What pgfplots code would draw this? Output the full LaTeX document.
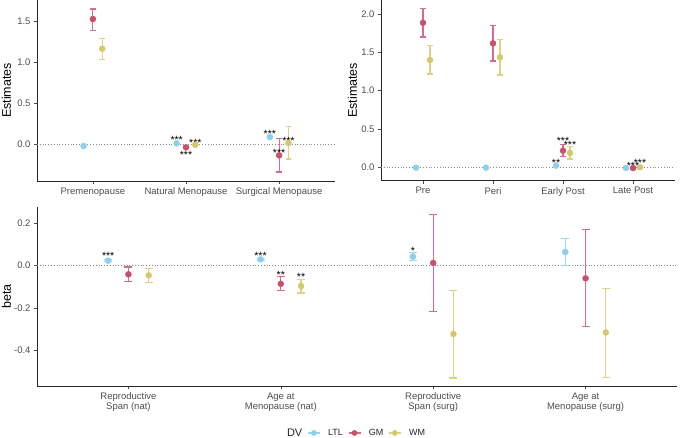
\documentclass[border=0pt]{standalone}
\usepackage{fontspec}
\setmainfont{Liberation Sans}
\usepackage{pgfplots}
\usepackage{pgfplotstable}
\pgfplotsset{compat=1.18}
\definecolor{ltl}{HTML}{8CD0EC}
\definecolor{gm}{HTML}{C94F6D}
\definecolor{wm}{HTML}{D4C86B}
\definecolor{ltlbar}{HTML}{9AD6EE}
\definecolor{gmbar}{HTML}{D26E87}
\definecolor{wmbar}{HTML}{DCD184}
\definecolor{tickgray}{HTML}{4D4D4D}

% top-left: x y ep em
\pgfplotstableread{
x y ep em
0.9 -0.024 0 0
1.9 0.008 0 0
2.9 0.085 0 0
}\tlLTL
\pgfplotstableread{
x y ep em
1.0 1.524 0.122 0.139
2.0 -0.040 0.010 0.010
3.0 -0.138 0.208 0.202
}\tlGM
\pgfplotstableread{
x y ep em
1.1 1.162 0.127 0.129
2.1 -0.010 0.010 0.010
3.1 0.012 0.204 0.195
}\tlWM
% top-right
\pgfplotstableread{
x y ep em
0.9 -0.005 0 0
1.9 -0.005 0 0
2.9 0.021 0 0
3.9 -0.010 0 0
}\trLTL
\pgfplotstableread{
x y ep em
1.0 1.886 0.183 0.186
2.0 1.617 0.235 0.230
3.0 0.217 0.083 0.074
4.0 -0.010 0.010 0.010
}\trGM
\pgfplotstableread{
x y ep em
1.1 1.400 0.186 0.183
2.1 1.435 0.230 0.231
3.1 0.187 0.083 0.079
4.1 0.000 0.010 0.010
}\trWM
% bottom
\pgfplotstableread{
x y ep em
0.867 0.024 0.005 0.005
1.867 0.030 0.005 0.005
2.867 0.043 0.019 0.018
3.867 0.065 0.064 0.063
}\bLTL
\pgfplotstableread{
x y ep em
1.0 -0.041 0.035 0.033
2.0 -0.086 0.034 0.033
3.0 0.013 0.230 0.230
4.0 -0.060 0.231 0.227
}\bGM
\pgfplotstableread{
x y ep em
1.133 -0.046 0.033 0.033
2.133 -0.097 0.032 0.033
3.133 -0.324 0.208 0.209
4.133 -0.317 0.207 0.212
}\bWM

\tikzset{star/.style={font=\fontsize{10.5}{11}\selectfont, anchor=base, yshift=-6pt, inner sep=0pt}}
\pgfplotsset{
  panel/.style={
    scale only axis,
    axis lines*=left,
    axis line style={black!85, line width=0.8pt, -},
    tick align=outside,
    major tick length=3pt,
    tick style={black!70, line width=0.6pt},
    tick label style={font=\fontsize{9.5}{10.5}\selectfont, text=tickgray},
    /pgf/number format/assume math mode=true,
    ylabel style={font=\fontsize{12.5}{14}\selectfont},
    clip=false,
  },
  ser/.style n args={3}{only marks, mark=*, mark size=3pt, color=#1,
    error bars/y dir=both, error bars/y explicit,
    error bars/error mark=|,
    error bars/error bar style={color=#2, draw=#2, line width=1.2pt, solid},
    error bars/error mark options={color=#2, draw=#2, line width=1.2pt, mark size=#3, solid}},
  zero/.style={gray!90, line width=0.7pt, dash pattern=on 0.8pt off 2pt},
  keyimg/.style 2 args={legend image code/.code={%
    \draw[#2, line width=1.2pt] (0pt,0pt) -- (12pt,0pt);
    \fill[#1] (6pt,0pt) circle (2.6pt);
    \path (0pt,0pt) (19pt,0pt);}},
}

\begin{document}
\begin{tikzpicture}
\path[use as bounding box] (0,0) rectangle (680pt,438pt);

% ---------- top left ----------
\begin{axis}[panel,
  at={(37pt,257pt)}, anchor=south west, width=298pt, height=181pt,
  xmin=0.4, xmax=3.6, ymin=-0.45, ymax=1.756,
  xtick={1,2,3}, xticklabels={Premenopause,Natural Menopause,Surgical Menopause},
  ytick={0,0.5,1,1.5}, yticklabels={0.0,0.5,1.0,1.5},
  ylabel={Estimates},
  ylabel style={at={(rel axis cs:0,0.5)}, yshift=30.5pt, anchor=center},
]
\addplot[zero] coordinates {(0.4,0) (3.6,0)};
\addplot[ser={ltl}{ltlbar}{2.7pt}] table[x=x,y=y,y error plus=ep,y error minus=em] {\tlLTL};
\addplot[ser={gm}{gmbar}{2.7pt}] table[x=x,y=y,y error plus=ep,y error minus=em] {\tlGM};
\addplot[ser={wm}{wmbar}{2.7pt}] table[x=x,y=y,y error plus=ep,y error minus=em] {\tlWM};
\node[star] at (axis cs:1.9,0.082) {***};
\node[star] at (axis cs:2.0,-0.106) {***};
\node[star] at (axis cs:2.1,0.049) {***};
\node[star] at (axis cs:2.9,0.159) {***};
\node[star] at (axis cs:3.0,-0.073) {***};
\node[star] at (axis cs:3.1,0.07) {***};
\end{axis}

% ---------- top right ----------
\begin{axis}[panel,
  at={(381pt,257.3pt)}, anchor=south west, width=294pt, height=180.7pt,
  xmin=0.4, xmax=4.6, ymin=-0.175, ymax=2.183,
  xtick={1,2,3,4}, xticklabels={Pre,Peri,Early Post,Late Post},
  ytick={0,0.5,1,1.5,2}, yticklabels={0.0,0.5,1.0,1.5,2.0},
  ylabel={Estimates},
  ylabel style={at={(rel axis cs:0,0.5)}, yshift=28.5pt, anchor=center},
]
\addplot[zero] coordinates {(0.4,0) (4.6,0)};
\addplot[ser={ltl}{ltlbar}{2.7pt}] table[x=x,y=y,y error plus=ep,y error minus=em] {\trLTL};
\addplot[ser={gm}{gmbar}{2.7pt}] table[x=x,y=y,y error plus=ep,y error minus=em] {\trGM};
\addplot[ser={wm}{wmbar}{2.7pt}] table[x=x,y=y,y error plus=ep,y error minus=em] {\trWM};
\node[star] at (axis cs:2.9,0.095) {**};
\node[star] at (axis cs:3.0,0.378) {***};
\node[star] at (axis cs:3.1,0.321) {***};
\node[star] at (axis cs:4.0,0.052) {***};
\node[star] at (axis cs:4.1,0.095) {***};
\end{axis}

% ---------- bottom ----------
\begin{axis}[panel,
  at={(37pt,52pt)}, anchor=south west, width=640pt, height=179.3pt,
  xmin=0.4, xmax=4.6, ymin=-0.571, ymax=0.28,
  xtick={1,2,3,4},
  xticklabels={{Reproductive\\Span (nat)},{Age at\\Menopause (nat)},{Reproductive\\Span (surg)},{Age at\\Menopause (surg)}},
  x tick label style={align=center},
  ytick={-0.4,-0.2,0,0.2}, yticklabels={-0.4,-0.2,0.0,0.2},
  ylabel={beta},
  ylabel style={at={(rel axis cs:0,0.5)}, yshift=30.5pt, anchor=center},
  legend style={at={(0.4985,-0.262)}, anchor=center, draw=none, fill=none,
    font=\fontsize{9}{11}\selectfont, text=black!85,
    nodes={inner sep=1pt},
    /tikz/every even column/.append style={column sep=4pt}},
  legend columns=-1,
]
\addplot[zero, forget plot] coordinates {(0.4,0) (4.6,0)};
\addplot[forget plot, ser={ltl}{ltlbar}{4pt}] table[x=x,y=y,y error plus=ep,y error minus=em] {\bLTL};
\addplot[forget plot, ser={gm}{gmbar}{4pt}] table[x=x,y=y,y error plus=ep,y error minus=em] {\bGM};
\addplot[forget plot, ser={wm}{wmbar}{4pt}] table[x=x,y=y,y error plus=ep,y error minus=em] {\bWM};
\addlegendimage{empty legend}
\addlegendentry{\fontsize{11}{13}\selectfont DV}
\addlegendimage{keyimg={ltl}{ltlbar}}
\addlegendentry{LTL}
\addlegendimage{keyimg={gm}{gmbar}}
\addlegendentry{GM}
\addlegendimage{keyimg={wm}{wmbar}}
\addlegendentry{WM}
\node[star] at (axis cs:0.867,0.059) {***};
\node[star] at (axis cs:1.867,0.059) {***};
\node[star] at (axis cs:2.0,-0.031) {**};
\node[star] at (axis cs:2.133,-0.044) {**};
\node[star] at (axis cs:2.867,0.080) {*};
\end{axis}
\end{tikzpicture}
\end{document}
